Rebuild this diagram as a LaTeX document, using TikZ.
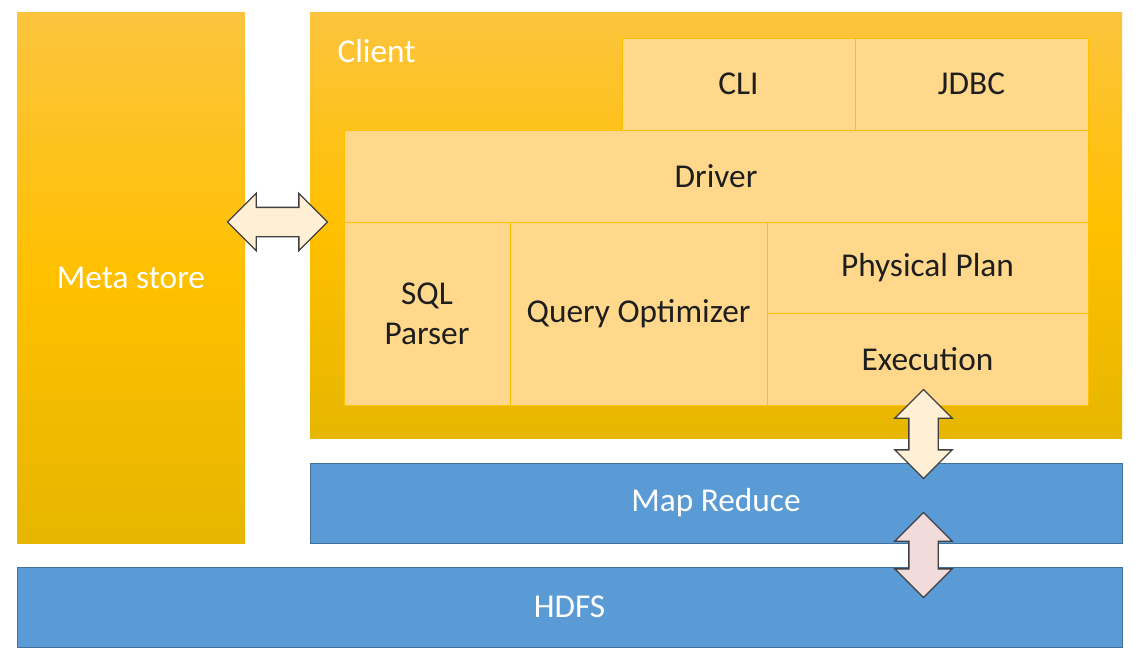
\documentclass[tikz,border=0pt]{standalone}
\usepackage{fontspec}
\setmainfont{Carlito}
\usetikzlibrary{positioning,calc,shapes.arrows}

\definecolor{goldtop}{HTML}{FCC43E}
\definecolor{goldmid}{HTML}{FFC000}
\definecolor{goldbot}{HTML}{E6B600}
\definecolor{innerfill}{HTML}{FFD88C}
\definecolor{blueboxfill}{HTML}{5B9BD5}
\definecolor{blueboxline}{HTML}{41719C}
\definecolor{creamarrow}{HTML}{FFF0D5}
\definecolor{pinkarrow}{HTML}{F2DCDB}
\definecolor{darktext}{HTML}{1E1E1E}

\tikzset{every picture/.style={line width=0.75pt}}
\tikzset{
  goldbox/.style={rectangle, anchor=north west, inner sep=0pt, outer sep=0pt,
    top color=goldtop, bottom color=goldbot, middle color=goldmid,
    text=white, font=\fontsize{25}{30}\selectfont},
  inbox/.style={rectangle, anchor=north west, draw=goldmid, fill=innerfill,
    inner sep=0pt, outer sep=0pt, text=darktext, align=center,
    font=\fontsize{25}{30}\selectfont},
  bluebox/.style={rectangle, anchor=north west, draw=blueboxline, fill=blueboxfill,
    inner sep=0pt, outer sep=0pt, text=white, font=\fontsize{25}{30}\selectfont},
  fatarrow/.style={double arrow, draw=black!75, line width=1pt, inner sep=0pt,
    inner ysep=10.5pt, minimum width=42.5pt, double arrow head extend=10.5pt,
    double arrow tip angle=90}
}

\begin{document}
\begin{tikzpicture}[x=0.75pt,y=0.75pt,yscale=-1,xscale=1]
\useasboundingbox (0,0) rectangle (1141,657);

% Meta store column
\node [goldbox, minimum width=171pt, minimum height=398.25pt] (meta) at (17,12) {Meta store};
% Client frame
\node [goldbox, minimum width=609pt, minimum height=319.5pt] (client) at (310,12) {};
\node [anchor=base west, inner sep=0pt, text=white, font=\fontsize{25}{30}\selectfont] (clientlbl) at (337,62) {Client};

% Client parts
\node [inbox, minimum width=174.75pt, minimum height=69pt] (cli) at (622,38) {CLI};
\node [inbox, minimum width=174.75pt, minimum height=69pt, right=0pt of cli] (jdbc) {JDBC};
\node [inbox, minimum width=558pt, minimum height=69pt] (driver) at (344,130) {Driver};
\node [inbox, minimum width=124.5pt, minimum height=137.25pt, below=0pt of driver.south west, anchor=north west] (sqlp) {SQL\\Parser};
\node [inbox, minimum width=192.75pt, minimum height=137.25pt, right=0pt of sqlp] (qopt) {Query Optimizer};
\node [inbox, minimum width=240.75pt, minimum height=68.25pt, anchor=north west] (pplan) at (qopt.north east) {Physical Plan};
\node [inbox, minimum width=240.75pt, minimum height=69pt, below=0pt of pplan] (exec) {Execution};

% Lower layers
\node [bluebox, minimum width=609pt, minimum height=60pt] (mapred) at (310,463) {Map Reduce};
\node [bluebox, minimum width=828.75pt, minimum height=60pt] (hdfs) at (17,567) {HDFS};

% Connectors
\coordinate (gapmid) at ($(meta.east)!0.5!(client.west)$);
\coordinate (midgap) at ($(exec.south)!0.5!(mapred.north)$);
\coordinate (lowgap) at ($(mapred.south)!0.5!(hdfs.north)$);
\coordinate (arrowx) at ([xshift=-3pt]exec.south);
\node [fatarrow, fill=creamarrow, minimum height=75pt] (metaarrow)
  at (gapmid |- driver.south) {};
\node [fatarrow, fill=creamarrow, minimum height=66.75pt, rotate=90] (execarrow)
  at (arrowx |- midgap) {};
\node [fatarrow, fill=pinkarrow, minimum height=63.75pt, rotate=90] (hdfsarrow)
  at (arrowx |- lowgap) {};

\end{tikzpicture}
\end{document}
